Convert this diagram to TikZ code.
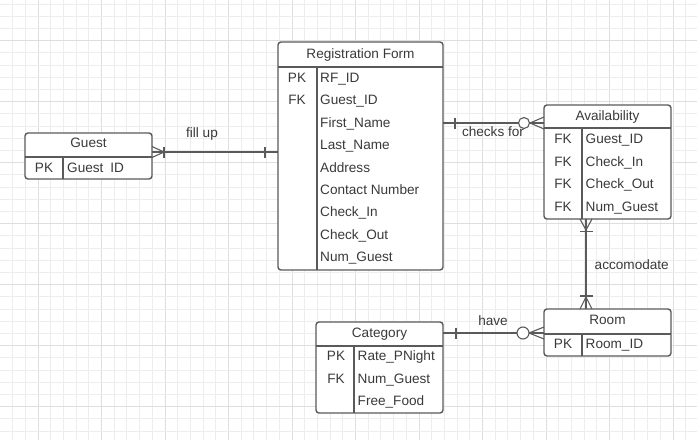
\documentclass[tikz,border=0pt]{standalone}
\usepackage{fontspec}
\setmainfont{Liberation Sans}
\usetikzlibrary{calc}
\definecolor{lc}{HTML}{5A5A5A}
\definecolor{tc}{HTML}{3A3A3A}
\definecolor{gmin}{HTML}{EDEDED}
\definecolor{gmaj}{HTML}{DEDEDE}
\begin{document}
\begin{tikzpicture}[x=1pt,y=-1pt,
  ent/.style={draw=lc,line width=1.4pt,rounded corners=3pt,rectangle,inner sep=0pt,outer sep=0pt,fill=white},
  sep/.style={draw=lc,line width=1.4pt},
  conn/.style={draw=lc,line width=1.3pt},
  orn/.style={draw=lc,line width=1.1pt},
  txt/.style={text=tc,inner sep=0pt,font=\fontsize{13.6}{15}\selectfont,anchor=base},
  fld/.style={txt,anchor=base west},
]
\useasboundingbox (0,0) rectangle (697,440);
\fill[white] (0,0) rectangle (697,440);
% grid
\foreach \k in {0,...,55} {
  \pgfmathsetmacro\gx{-0.1+12.7*\k}
  \pgfmathtruncatemacro\m{mod(\k,5)}
  \ifnum\m=3 \draw[gmaj,line width=1pt] (\gx,0) -- (\gx,440);
  \else \draw[gmin,line width=0.9pt] (\gx,0) -- (\gx,440); \fi
}
\foreach \k in {0,...,36} {
  \pgfmathsetmacro\gy{4.1+12.2*\k}
  \pgfmathtruncatemacro\m{mod(\k,5)}
  \ifnum\m=3 \draw[gmaj,line width=1pt] (0,\gy) -- (697,\gy);
  \else \draw[gmin,line width=0.9pt] (0,\gy) -- (697,\gy); \fi
}

% ---------- Registration Form ----------
\node[ent,minimum width=165pt,minimum height=228pt] (rf) at (360.5,156) {};
\draw[sep] (rf.west |- 0,67) -- (rf.east |- 0,67);
\draw[sep] (317,67) -- (317,0 |- rf.south);
\node[txt] (rfh) at (360.5,58) {Registration Form};
\node[txt] (rfk1) at (297,82) {PK};
\node[txt] (rfk2) at (297,104.5) {FK};
\node[fld] (rf1) at (320,82) {RF\_ID};
\node[fld] (rf2) at (320,104.5) {Guest\_ID};
\node[fld] (rf3) at (320,127) {First\_Name};
\node[fld] (rf4) at (320,149.5) {Last\_Name};
\node[fld] (rf5) at (320,172) {Address};
\node[fld] (rf6) at (320,194) {Contact Number};
\node[fld] (rf7) at (320,216.5) {Check\_In};
\node[fld] (rf8) at (320,239) {Check\_Out};
\node[fld] (rf9) at (320,261.5) {Num\_Guest};

% ---------- Guest ----------
\node[ent,minimum width=127pt,minimum height=46pt] (guest) at (88.5,156) {};
\draw[sep] (guest.west |- 0,157) -- (guest.east |- 0,157);
\draw[sep] (63,157) -- (63,0 |- guest.south);
\node[txt] (gh) at (88.5,147) {Guest};
\node[txt] (gk) at (44,172) {PK};
\node[fld] (g1) at (67,172) {Guest\enspace ID};

% ---------- Availability ----------
\node[ent,minimum width=127pt,minimum height=114pt] (av) at (607.5,162) {};
\draw[sep] (av.west |- 0,128) -- (av.east |- 0,128);
\draw[sep] (582,128) -- (582,0 |- av.south);
\node[txt] (avh) at (607.5,120) {Availability};
\node[txt] (avk1) at (563,143) {FK};
\node[txt] (avk2) at (563,166) {FK};
\node[txt] (avk3) at (563,188) {FK};
\node[txt] (avk4) at (563,211) {FK};
\node[fld] (av1) at (585.5,143) {Guest\_ID};
\node[fld] (av2) at (585.5,166) {Check\_In};
\node[fld] (av3) at (585.5,188) {Check\_Out};
\node[fld] (av4) at (585.5,211) {Num\_Guest};

% ---------- Room ----------
\node[ent,minimum width=127pt,minimum height=47pt] (room) at (607.5,332.5) {};
\draw[sep] (room.west |- 0,334) -- (room.east |- 0,334);
\draw[sep] (582,334) -- (582,0 |- room.south);
\node[txt] (roh) at (607.5,324) {Room};
\node[txt] (rok) at (563,348) {PK};
\node[fld] (ro1) at (585.5,348) {Room\_ID};

% ---------- Category ----------
\node[ent,minimum width=127pt,minimum height=91pt] (cat) at (379.5,367.5) {};
\draw[sep] (cat.west |- 0,346) -- (cat.east |- 0,346);
\draw[sep] (354,346) -- (354,0 |- cat.south);
\node[txt] (cah) at (379.5,337) {Category};
\node[txt] (cak1) at (336,360) {PK};
\node[txt] (cak2) at (336,383) {FK};
\node[fld] (ca1) at (357.5,360) {Rate\_PNight};
\node[fld] (ca2) at (357.5,383) {Num\_Guest};
\node[fld] (ca3) at (357.5,405) {Free\_Food};

% ---------- connectors ----------
% fill up
\draw[conn] (guest.east |- 0,152) -- (rf.west |- 0,152);
\draw[orn] (152,146.5) -- (164,152) -- (152,157.5);
\draw[orn] (164,146.5) -- (164,157.5);
\draw[orn] (265,146.5) -- (265,157.5);
\node[txt] (l1) at (202,137) {fill up};

% checks for
\draw[conn] (rf.east |- 0,123) -- (av.west |- 0,123);
\draw[orn] (455,117.5) -- (455,128.5);
\draw[orn] (544,117) -- (530,123) -- (544,129);
\node[txt] (l2) at (493,136) {checks for};
\draw[orn,fill=white] (524,123) circle (5.5pt);

% have
\draw[conn] (cat.east |- 0,333) -- (room.west |- 0,333);
\draw[orn] (456,327.5) -- (456,339);
\draw[orn] (544,327) -- (529,333) -- (544,339);
\draw[orn,fill=white] (523,333) circle (6pt);
\node[txt] (l3) at (493,325) {have};

% accomodate
\draw[conn] (586,0 |- av.south) -- (586,0 |- room.north);
\draw[orn] (580,219) -- (586,230) -- (592,219);
\draw[orn] (580,231.5) -- (592.5,231.5);
\draw[orn] (580,296) -- (592.5,296);
\draw[orn] (580,309) -- (586,297) -- (592,309);
\node[fld] (l4) at (594.5,269) {accomodate};
\end{tikzpicture}
\end{document}
